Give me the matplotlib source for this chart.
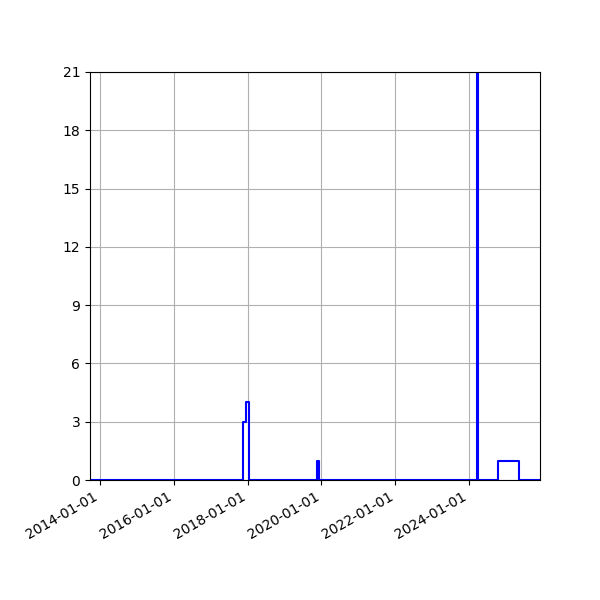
import matplotlib
matplotlib.use("Agg")
import matplotlib.pyplot as plt
import matplotlib.dates as mdates
from matplotlib.ticker import MultipleLocator
import numpy as np

# change points of the step series (value holds until the next date)
dates = ['2013-09-20', '2017-11-19', '2017-12-19', '2018-01-13',
         '2019-11-21', '2019-12-07', '2024-03-18', '2024-03-26',
         '2024-10-17', '2025-05-06', '2025-12-31']
counts = [0, 3, 4, 0, 1, 0, 40, 0, 1, 0, 0]

x = np.array(dates, dtype='datetime64[D]')

fig = plt.figure(figsize=(6, 6), dpi=100)
ax = fig.add_axes([0.15, 0.2, 0.75, 0.68])
ax.plot(x, counts, color='b', linewidth=1.5, drawstyle='steps-post')

ax.set_xlim(np.datetime64('2013-09-24'), np.datetime64('2025-12-02'))
ax.set_ylim(0, 21)
ax.yaxis.set_major_locator(MultipleLocator(3))
ax.xaxis.set_major_locator(mdates.YearLocator(2))
ax.xaxis.set_major_formatter(mdates.DateFormatter('%Y-%m-%d'))
ax.grid(True)
for lbl in ax.get_xticklabels():
    lbl.set_rotation(30)
    lbl.set_ha('right')

fig.savefig('out.png')
